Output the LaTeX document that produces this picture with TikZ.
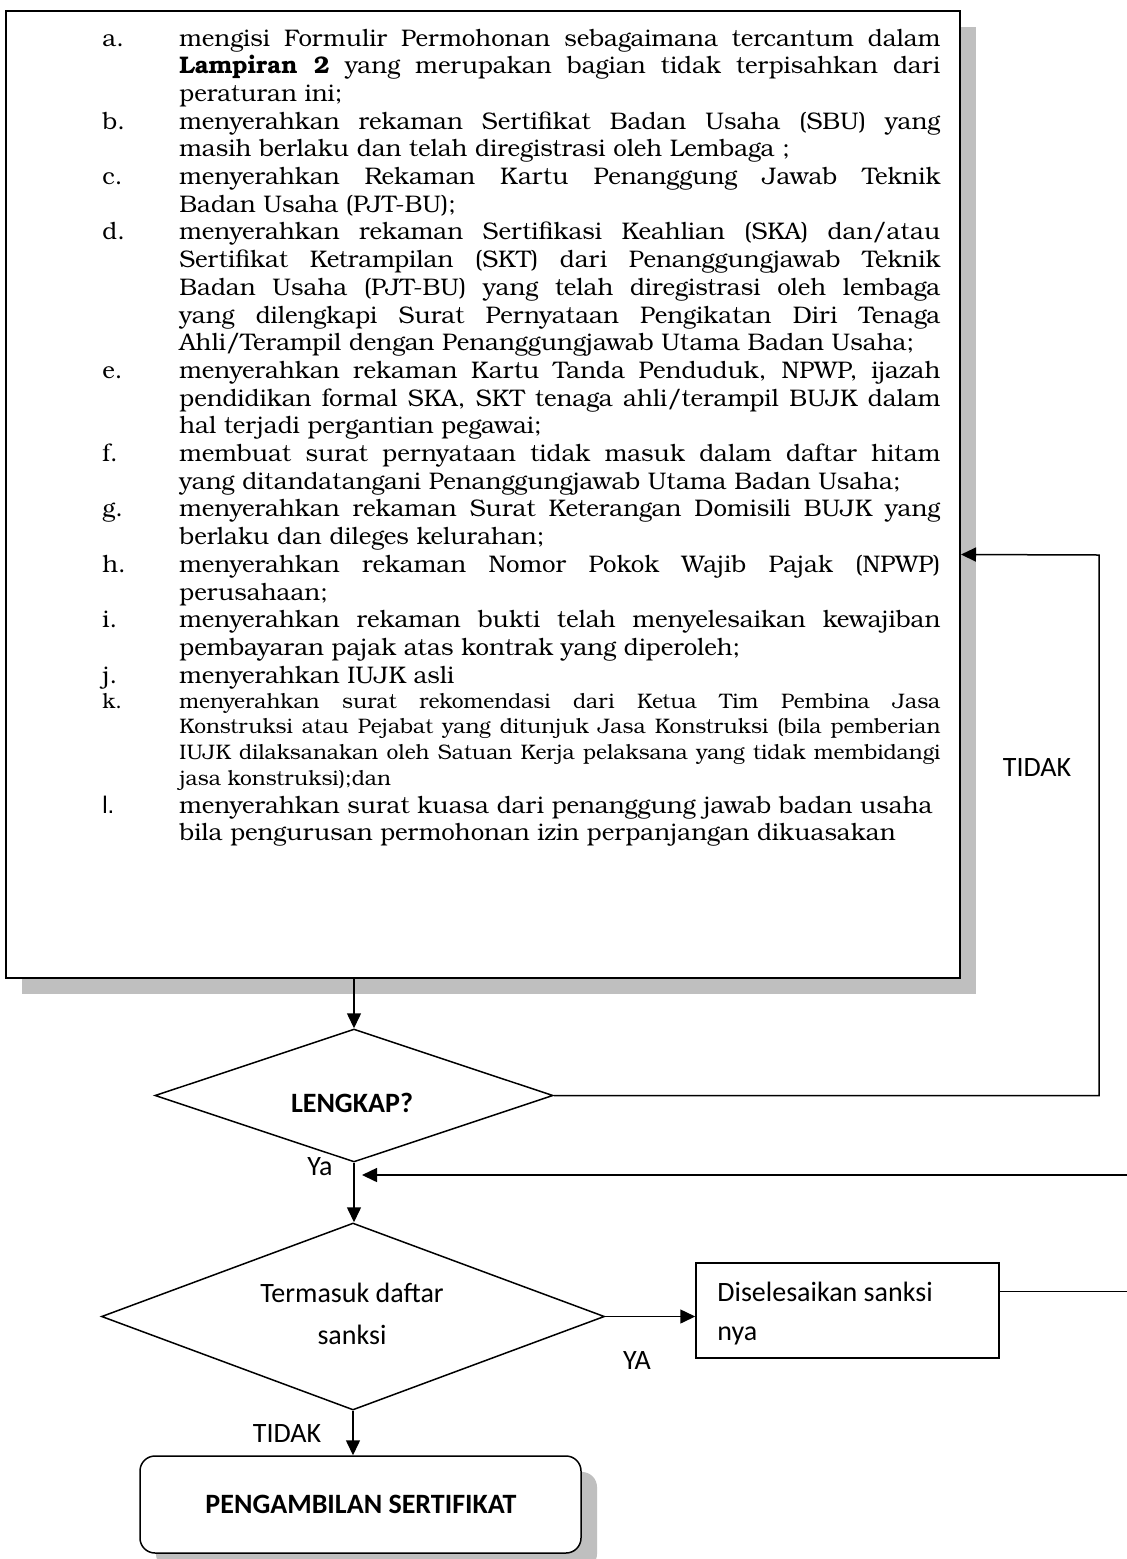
\documentclass[tikz,border=0pt]{standalone}
\usepackage{fontspec}
\setmainfont{texgyrebonum}[Extension=.otf, UprightFont=*-regular, BoldFont=*-bold, ItalicFont=*-italic, BoldItalicFont=*-bolditalic]
\newfontfamily\calfont{Carlito}
\newfontfamily\arialfont{Liberation Sans}
\usetikzlibrary{shapes.geometric, arrows.meta, shadows}
\newcommand\jl[2]{\hbox{\makebox[38.5pt][l]{#1}\makebox[380.5pt][s]{#2}}}
\newcommand\rl[2]{\hbox{\makebox[38.5pt][l]{#1}#2}}
\tikzset{
  mainbox/.style={draw, line width=1pt, fill=white, inner sep=0pt,
    drop shadow={shadow xshift=8pt, shadow yshift=-8pt, fill=black!25, opacity=1}},
  decision/.style={draw, diamond, line width=0.75pt, inner sep=0pt, fill=white},
  procbox/.style={draw, line width=0.75pt, inner sep=0pt, fill=white},
  termbox/.style={draw, rounded corners=7.5pt, line width=0.75pt, fill=white, inner sep=0pt,
    drop shadow={shadow xshift=8pt, shadow yshift=-8pt, fill=black!25, opacity=1}},
  arr/.style={line width=0.75pt, -{Triangle[length=7.5pt,width=7pt]}},
  conn/.style={line width=0.75pt},
  lab/.style={font=\calfont\fontsize{14pt}{17pt}\selectfont, inner sep=0pt, anchor=base},
  blab/.style={font=\calfont\bfseries\fontsize{14pt}{17pt}\selectfont, inner sep=0pt, anchor=base},
}
\begin{document}
\begin{tikzpicture}[x=0.5pt, y=-0.5pt]
\fill[white] (0,0) rectangle (1127,1559);
\useasboundingbox (0,0) rectangle (1127,1559);

% main requirements box
\node[mainbox, minimum width=477pt, minimum height=483.5pt] (req) at (483,494.5) {};
\node[anchor=base west, inner sep=0pt] (reqtext) at (102,46) {%
\begin{minipage}[t]{419pt}
\lineskiplimit=-20pt\lineskip=0pt
\fontsize{12pt}{13.85pt}\selectfont
\jl{a.}{mengisi Formulir Permohonan sebagaimana tercantum dalam}
\jl{}{\textbf{Lampiran 2} yang merupakan bagian tidak terpisahkan dari}
\rl{}{peraturan ini;}
\jl{b.}{menyerahkan rekaman Sertifikat Badan Usaha (SBU) yang}
\rl{}{masih berlaku dan telah diregistrasi oleh Lembaga ;}
\jl{c.}{menyerahkan Rekaman Kartu Penanggung Jawab Teknik}
\rl{}{Badan Usaha (PJT-BU);}
\jl{d.}{menyerahkan rekaman Sertifikasi Keahlian (SKA) dan/atau}
\jl{}{Sertifikat Ketrampilan (SKT) dari Penanggungjawab Teknik}
\jl{}{Badan Usaha (PJT-BU) yang telah diregistrasi oleh lembaga}
\jl{}{yang dilengkapi Surat Pernyataan Pengikatan Diri Tenaga}
\rl{}{Ahli/Terampil dengan Penanggungjawab Utama Badan Usaha;}
\jl{e.}{menyerahkan rekaman Kartu Tanda Penduduk, NPWP, ijazah}
\jl{}{pendidikan formal SKA, SKT tenaga ahli/terampil BUJK dalam}
\rl{}{hal terjadi pergantian pegawai;}
\jl{f.}{membuat surat pernyataan tidak masuk dalam daftar hitam}
\rl{}{yang ditandatangani Penanggungjawab Utama Badan Usaha;}
\jl{g.}{menyerahkan rekaman Surat Keterangan Domisili BUJK yang}
\rl{}{berlaku dan dileges kelurahan;}
\jl{h.}{menyerahkan rekaman Nomor Pokok Wajib Pajak (NPWP)}
\rl{}{perusahaan;}
\jl{i.}{menyerahkan rekaman bukti telah menyelesaikan kewajiban}
\rl{}{pembayaran pajak atas kontrak yang diperoleh;}
\rl{j.}{menyerahkan IUJK asli}
\fontsize{10.5pt}{12.5pt}\selectfont
\jl{k.}{menyerahkan surat rekomendasi dari Ketua Tim Pembina Jasa}
\baselineskip=12.85pt
\jl{}{Konstruksi atau Pejabat yang ditunjuk Jasa Konstruksi (bila pemberian}
\jl{}{IUJK dilaksanakan oleh Satuan Kerja pelaksana yang tidak membidangi}
\rl{}{jasa konstruksi);dan}
\fontsize{12pt}{14.25pt}\selectfont
\rl{\arialfont l.}{menyerahkan surat kuasa dari penanggung jawab badan usaha}
\baselineskip=13.5pt
\rl{}{bila pengurusan permohonan izin perpanjangan dikuasakan}
\end{minipage}};

% decisions and boxes
\node[decision, minimum width=199pt, minimum height=66.5pt] (lenk) at (354,1095.5) {};
\node[blab] (lenktxt) at (352,1112) {LENGKAP?};

\node[decision, minimum width=251.5pt, minimum height=93.5pt] (term) at (353,1316.5) {};
\node[lab, align=center] (termtxt) at (352,1344) {Termasuk daftar\\[4pt]sanksi};

\node[procbox, minimum width=151.5pt, minimum height=47.5pt] (dis) at (847.5,1310.5) {};
\node[lab, anchor=base west, align=left] (distxt) at (717,1340) {Diselesaikan sanksi\\[2.5pt]nya};

\node[termbox, minimum width=220.5pt, minimum height=48.5pt] (ambil) at (360.5,1504.5) {};
\node[blab] (ambiltxt) at (361,1513) {PENGAMBILAN SERTIFIKAT};

% labels
\node[lab] (tidak1) at (1037,776) {TIDAK};
\node[lab] (ya1) at (320,1175) {Ya};
\node[lab] (ya2) at (637,1369) {YA};
\node[lab] (tidak2) at (287,1442) {TIDAK};

% coordinates
\coordinate (tidakcorner) at (1099,555);
\coordinate (edge) at (1140,1175);
\coordinate (retin) at (362,1175);

% connectors
\draw[arr] (req.south -| lenk.north) -- (lenk.north);
\draw[arr] (lenk.east) -| (tidakcorner) -- ([yshift=-30pt]req.east);
\draw[arr] (lenk.south) -- (lenk.south |- term.north);
\draw[arr] (term.east) -- (term.east -| dis.west);
\draw[arr] ([yshift=9.5pt]dis.east) -| (edge) -- (retin);
\draw[arr] (term.south) -- (term.south |- ambil.north);
\end{tikzpicture}
\end{document}
